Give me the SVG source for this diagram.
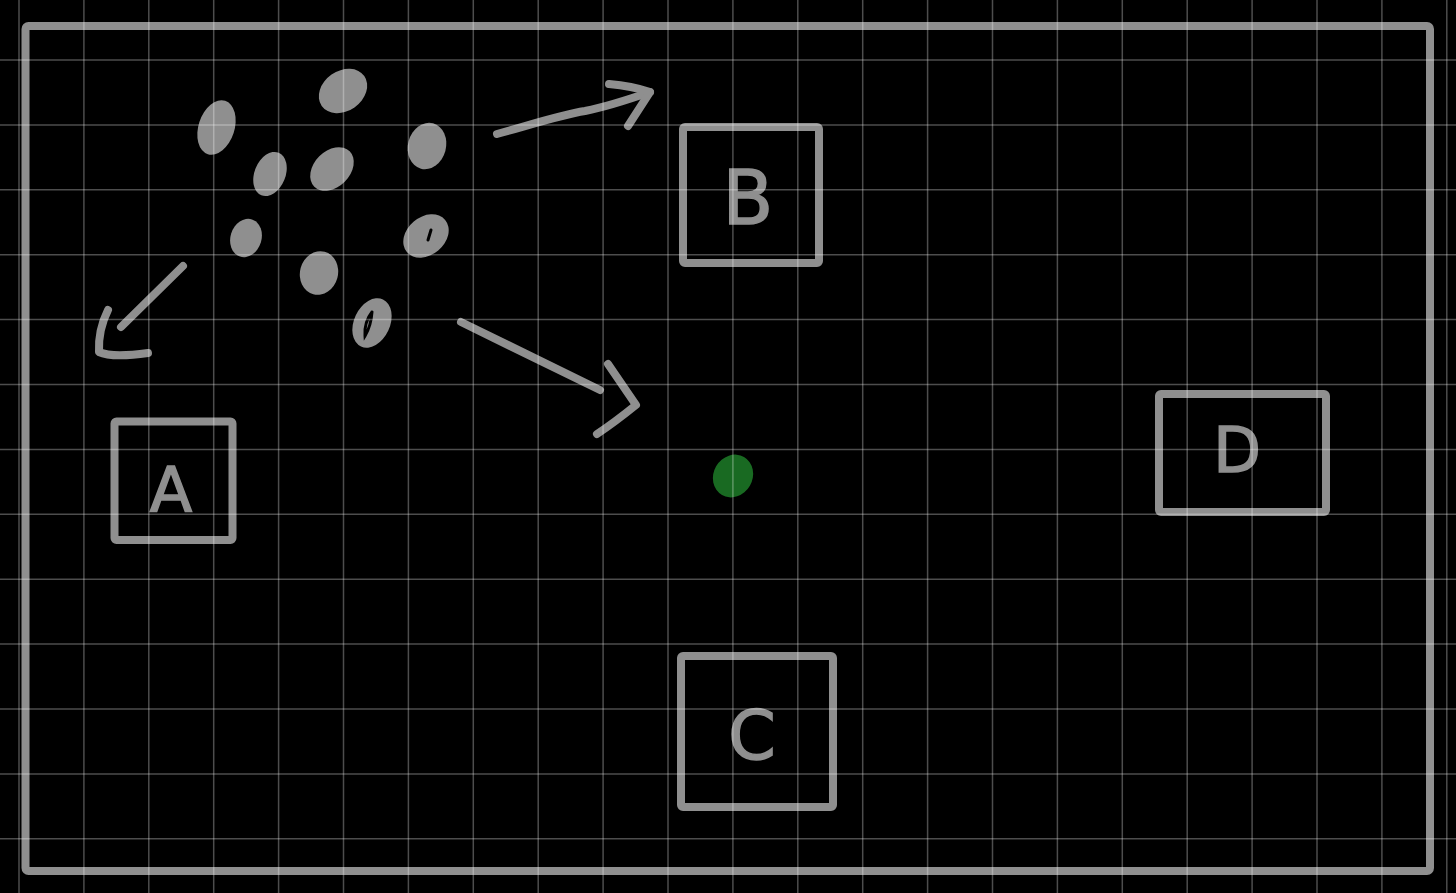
<svg xmlns="http://www.w3.org/2000/svg" width="1456" height="893" viewBox="0 0 1456 893">
  <defs>
    <style>
      .ink { fill: none; stroke: #8f8f8f; stroke-width: 8; stroke-linecap: round; stroke-linejoin: round; }
      .box { fill: none; stroke: #8f8f8f; stroke-width: 8; stroke-linejoin: round; }
      .blob { fill: #8f8f8f; }
      .slit { fill: none; stroke: #000; stroke-width: 3; stroke-linecap: round; }
      .lbl { fill: #8f8f8f; stroke: #8f8f8f; stroke-width: 1.5; font-family: "DejaVu Sans", "Liberation Sans", sans-serif; text-anchor: middle; }
      .grid line { stroke: #ffffff; stroke-opacity: 0.3; stroke-width: 1.5; }
    </style>
  </defs>
  <rect x="0" y="0" width="1456" height="893" fill="#000"/>

  <!-- outer frame -->
  <rect id="frame" class="box" x="25.5" y="26" width="1404.5" height="845" rx="3"/>

  <!-- blob cluster -->
  <g id="blobs">
    <ellipse class="blob" cx="216.5" cy="127.5" rx="18" ry="28" transform="rotate(18 216.5 127.5)"/>
    <ellipse class="blob" cx="343" cy="91" rx="26" ry="20" transform="rotate(-35 343 91)"/>
    <ellipse class="blob" cx="270" cy="174" rx="15.5" ry="23" transform="rotate(22 270 174)"/>
    <ellipse class="blob" cx="332" cy="169" rx="25" ry="18" transform="rotate(-45 332 169)"/>
    <ellipse class="blob" cx="427" cy="146" rx="19" ry="23.5" transform="rotate(15 427 146)"/>
    <ellipse class="blob" cx="246" cy="238" rx="15.5" ry="19.5" transform="rotate(18 246 238)"/>
    <ellipse class="blob" cx="426" cy="236" rx="25" ry="19" transform="rotate(-40 426 236)"/>
    <path class="slit" d="M431,230 L428,240"/>
    <ellipse class="blob" cx="319" cy="273" rx="19" ry="22" transform="rotate(15 319 273)"/>
    <ellipse class="blob" cx="372" cy="323" rx="18" ry="26" transform="rotate(25 372 323)"/>
    <path class="slit" d="M372,312 Q364,322 365,336 Q371,326 372,312"/>
  </g>

  <!-- green dot -->
  <ellipse id="dot" cx="733" cy="476" rx="19.5" ry="22" transform="rotate(30 733 476)" fill="#196a22"/>

  <!-- nodes -->
  <g id="node-A">
    <rect class="box" x="114.5" y="421.5" width="118" height="118.5" rx="2"/>
    <text class="lbl" x="171" y="512" font-size="62">A</text>
  </g>
  <g id="node-B">
    <rect class="box" x="683" y="127" width="136" height="136" rx="2"/>
    <text class="lbl" x="748" y="224" font-size="74">B</text>
  </g>
  <g id="node-C">
    <rect class="box" x="681" y="656" width="152" height="151" rx="2"/>
    <text class="lbl" x="752" y="759" font-size="68">C</text>
  </g>
  <g id="node-D">
    <rect class="box" x="1159" y="394" width="167" height="118" rx="2"/>
    <text class="lbl" x="1237" y="472" font-size="62">D</text>
  </g>

  <!-- connectors -->
  <g id="connectors">
    <path class="ink" d="M497,134 C530,125 560,115 585,111 C610,106 630,99 650,92"/>
    <path class="ink" d="M609,84 Q632,86 650,92 L628,126"/>
    <path class="ink" d="M183,266 L121,327"/>
    <path class="ink" d="M108,310 Q98,330 99,352 Q112,358 148,353"/>
    <path class="ink" d="M461,322 L600,390"/>
    <path class="ink" d="M608,364 L636,405 Q615,422 597,434"/>
  </g>

  <!-- grid overlay -->
  <g class="grid">
    <line x1="19" y1="0" x2="19" y2="893"/>
    <line x1="83.9" y1="0" x2="83.9" y2="893"/>
    <line x1="148.8" y1="0" x2="148.8" y2="893"/>
    <line x1="213.7" y1="0" x2="213.7" y2="893"/>
    <line x1="278.6" y1="0" x2="278.6" y2="893"/>
    <line x1="343.5" y1="0" x2="343.5" y2="893"/>
    <line x1="408.4" y1="0" x2="408.4" y2="893"/>
    <line x1="473.3" y1="0" x2="473.3" y2="893"/>
    <line x1="538.2" y1="0" x2="538.2" y2="893"/>
    <line x1="603.1" y1="0" x2="603.1" y2="893"/>
    <line x1="668" y1="0" x2="668" y2="893"/>
    <line x1="732.9" y1="0" x2="732.9" y2="893"/>
    <line x1="797.8" y1="0" x2="797.8" y2="893"/>
    <line x1="862.7" y1="0" x2="862.7" y2="893"/>
    <line x1="927.6" y1="0" x2="927.6" y2="893"/>
    <line x1="992.5" y1="0" x2="992.5" y2="893"/>
    <line x1="1057.4" y1="0" x2="1057.4" y2="893"/>
    <line x1="1122.3" y1="0" x2="1122.3" y2="893"/>
    <line x1="1187.2" y1="0" x2="1187.2" y2="893"/>
    <line x1="1252.1" y1="0" x2="1252.1" y2="893"/>
    <line x1="1317" y1="0" x2="1317" y2="893"/>
    <line x1="1381.9" y1="0" x2="1381.9" y2="893"/>
    <line x1="1446.8" y1="0" x2="1446.8" y2="893"/>
    <line x1="0" y1="60" x2="1456" y2="60"/>
    <line x1="0" y1="124.9" x2="1456" y2="124.9"/>
    <line x1="0" y1="189.8" x2="1456" y2="189.8"/>
    <line x1="0" y1="254.7" x2="1456" y2="254.7"/>
    <line x1="0" y1="319.6" x2="1456" y2="319.6"/>
    <line x1="0" y1="384.5" x2="1456" y2="384.5"/>
    <line x1="0" y1="449.4" x2="1456" y2="449.4"/>
    <line x1="0" y1="514.3" x2="1456" y2="514.3"/>
    <line x1="0" y1="579.2" x2="1456" y2="579.2"/>
    <line x1="0" y1="644.1" x2="1456" y2="644.1"/>
    <line x1="0" y1="709" x2="1456" y2="709"/>
    <line x1="0" y1="773.9" x2="1456" y2="773.9"/>
    <line x1="0" y1="838.8" x2="1456" y2="838.8"/>
  </g>
</svg>
